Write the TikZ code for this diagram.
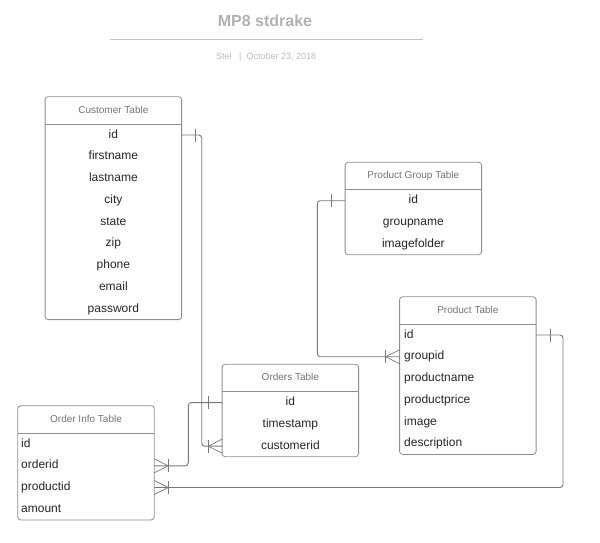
\documentclass[tikz,border=0pt]{standalone}
\usepackage{fontspec}
\setmainfont{Liberation Sans}
\usetikzlibrary{arrows.meta}

\definecolor{titlegray}{HTML}{B2B2B2}
\definecolor{subgray}{HTML}{BBBBBB}
\definecolor{rulegray}{HTML}{C4C4C4}
\definecolor{boxgray}{HTML}{8E8E8E}
\definecolor{hdrgray}{HTML}{737373}
\definecolor{linegray}{HTML}{787878}

\begin{document}
\begin{tikzpicture}[x=1pt, y=-1pt,
    tbl/.style={draw=boxgray, line width=0.8pt, rounded corners=3pt, minimum width=136.5pt, inner sep=0pt, outer sep=0pt},
    tblline/.style={draw=boxgray, line width=0.8pt},
    hdr/.style={text=hdrgray, font=\fontsize{10}{12}\selectfont, inner sep=0pt, text height=6pt, text depth=0pt},
    fld/.style={text=black!85, font=\fontsize{12}{14}\selectfont, inner sep=0pt, text height=6pt, text depth=0pt},
    fldl/.style={fld, anchor=west},
    conn/.style={draw=linegray, line width=0.9pt, rounded corners=3pt},
    crow/.style={draw=linegray, line width=0.7pt}]

        \useasboundingbox (0,0) rectangle (600,542);

        \def\tk{14}

        % title
        \node[font=\bfseries\fontsize{16}{19}\selectfont, text=titlegray, anchor=base, inner sep=0pt] (ttl) at (265,26.7) {MP8 stdrake};
        \draw[rulegray, line width=1.2pt] (110,39.3) -- (422.7,39.3);
        \node[font=\fontsize{9}{11}\selectfont, text=subgray, anchor=base west, inner sep=0pt] (sub) at (216,59) {Stel\hspace{7.5pt}|\hspace{5pt}October 23, 2018};

        % Customer Table
        \node[tbl, minimum height=222.9pt] (cust) at (113.35,208.15) {};
        \node[hdr] (custh) at (113.35,110) {Customer Table};
        \draw[tblline] (cust.west |- 0,124) -- (cust.east |- 0,124);
        \node[fld] (cid) at (113.35,135) {id};
        \node[fld] (cfirst) at (113.35,156.75) {firstname};
        \node[fld] (clast) at (113.35,178.5) {lastname};
        \node[fld] (ccity) at (113.35,200.25) {city};
        \node[fld] (cstate) at (113.35,222) {state};
        \node[fld] (czip) at (113.35,243.75) {zip};
        \node[fld] (cphone) at (113.35,265.5) {phone};
        \node[fld] (cmail) at (113.35,287.25) {email};
        \node[fld] (cpass) at (113.35,309) {password};

        % Product Group Table
        \node[tbl, minimum height=92.4pt] (grp) at (413.35,208.5) {};
        \node[hdr] (grph) at (413.35,175.6) {Product Group Table};
        \draw[tblline] (grp.west |- 0,189.6) -- (grp.east |- 0,189.6);
        \node[fld] (gid) at (413.35,200.7) {id};
        \node[fld] (gname) at (413.35,222.4) {groupname};
        \node[fld] (gfolder) at (413.35,244.2) {imagefolder};

        % Product Table
        \node[tbl, minimum height=157.7pt] (prod) at (467.85,375.55) {};
        \node[hdr] (prodh) at (467.85,310) {Product Table};
        \draw[tblline] (prod.west |- 0,324) -- (prod.east |- 0,324);
        \node[fldl] (pid) at (404,335) {id};
        \node[fldl] (pgrp) at (404,356.75) {groupid};
        \node[fldl] (pname) at (404,378.5) {productname};
        \node[fldl] (pprice) at (404,400.25) {productprice};
        \node[fldl] (pimg) at (404,422) {image};
        \node[fldl] (pdesc) at (404,443.75) {description};

        % Orders Table
        \node[tbl, minimum height=92.4pt] (ord) at (290.35,410.5) {};
        \node[hdr] (ordh) at (290.35,377.6) {Orders Table};
        \draw[tblline] (ord.west |- 0,391.6) -- (ord.east |- 0,391.6);
        \node[fld] (oid) at (290.35,402.6) {id};
        \node[fld] (otime) at (290.35,424.4) {timestamp};
        \node[fld] (ocust) at (290.35,446.1) {customerid};

        % Order Info Table
        \node[tbl, minimum height=114.2pt] (info) at (86,462.8) {};
        \node[hdr] (infoh) at (86,419) {Order Info Table};
        \draw[tblline] (info.west |- 0,433) -- (info.east |- 0,433);
        \node[fldl] (iid) at (21,444) {id};
        \node[fldl] (iord) at (21,465.8) {orderid};
        \node[fldl] (iprod) at (21,487.5) {productid};
        \node[fldl] (iamt) at (21,509.3) {amount};

        % connectors
        \coordinate (c1) at (201.7,0);
        \coordinate (c2) at (188.3,0);
        \coordinate (c3) at (563,0);
        \coordinate (c4) at (317.3,0);
        \draw[conn] (cust.east |- cid) -| (c1 |- ocust) -- (ord.west |- ocust);
        \draw[conn] (ord.west |- oid) -| (c2 |- iord) -- (info.east |- iord);
        \draw[conn] (prod.east |- pid) -| (c3 |- iprod) -- (info.east |- iprod);
        \draw[conn] (grp.west |- gid) -| (c4 |- pgrp) -- (prod.west |- pgrp);

        % one ends
        \coordinate (e1) at (cust.east |- cid);
        \coordinate (e2) at (ord.west |- oid);
        \coordinate (e3) at (prod.east |- pid);
        \coordinate (e4) at (grp.west |- gid);
        \draw[crow] ([xshift=\tk pt]e1) ++(0,-6.5) -- ++(0,13);
        \draw[crow] ([xshift=-\tk pt]e2) ++(0,-6.5) -- ++(0,13);
        \draw[crow] ([xshift=\tk pt]e3) ++(0,-6.5) -- ++(0,13);
        \draw[crow] ([xshift=-\tk pt]e4) ++(0,-6.5) -- ++(0,13);

        % many ends
        \coordinate (m1) at (ord.west |- ocust);
        \coordinate (m2) at (info.east |- iord);
        \coordinate (m3) at (info.east |- iprod);
        \coordinate (m4) at (prod.west |- pgrp);
        \draw[crow] ([xshift=-\tk pt]m1) ++(0,-6.5) -- ++(0,13);
        \draw[crow] ([xshift=-\tk pt]m1) -- ++(\tk,-7) ([xshift=-\tk pt]m1) -- ++(\tk,7);
        \draw[crow] ([xshift=\tk pt]m2) ++(0,-6.5) -- ++(0,13);
        \draw[crow] ([xshift=\tk pt]m2) -- ++(-\tk,-7) ([xshift=\tk pt]m2) -- ++(-\tk,7);
        \draw[crow] ([xshift=\tk pt]m3) ++(0,-6.5) -- ++(0,13);
        \draw[crow] ([xshift=\tk pt]m3) -- ++(-\tk,-7) ([xshift=\tk pt]m3) -- ++(-\tk,7);
        \draw[crow] ([xshift=-\tk pt]m4) ++(0,-6.5) -- ++(0,13);
        \draw[crow] ([xshift=-\tk pt]m4) -- ++(\tk,-7) ([xshift=-\tk pt]m4) -- ++(\tk,7);

      \end{tikzpicture}
\end{document}
